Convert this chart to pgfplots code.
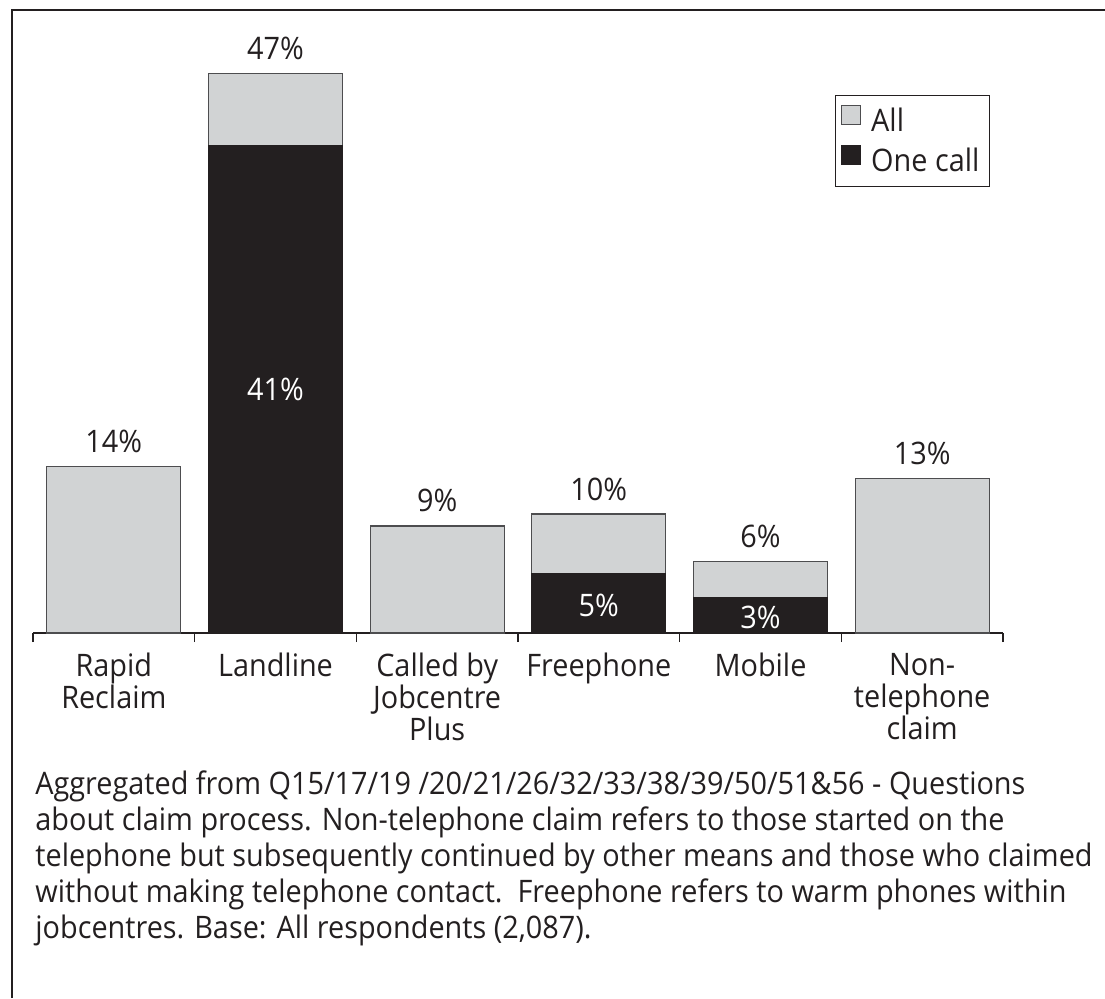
\documentclass[border=0pt]{standalone}
\usepackage{pgfplots}
\pgfplotsset{compat=1.18}
\usepackage{fontspec}
\setmainfont{Open Sans}[FakeStretch=0.93]
\definecolor{txt}{HTML}{231F20}
\definecolor{greyfill}{HTML}{D1D3D4}
\definecolor{edge}{HTML}{4D4D4F}
\begin{document}
\begin{tikzpicture}[every node/.style={text=txt}]
\path[use as bounding box] (0,0) rectangle (552.5pt,-499pt);
\draw[txt, line width=1.4pt] (6pt,-499pt) -- (6pt,-5pt) -- (552.5pt,-5pt);
\begin{axis}[
  at={(16.5pt,-316.5pt)}, anchor=south west,
  scale only axis, width=485pt, height=297.5pt,
  xmin=-0.5, xmax=5.5, ymin=0, ymax=50,
  axis x line=bottom, axis y line=none,
  x axis line style={-, txt, line width=0.6pt},
  xtick={0,...,5}, major tick length=0pt,
  minor xtick={-0.5,0.5,...,5.5}, minor tick length=4.5pt,
  tick align=outside, xtick pos=bottom,
  minor tick style={txt, line width=0.6pt},
  xticklabels={{Rapid\\Reclaim},{Landline},{Called by\\Jobcentre\\Plus},{Freephone},{Mobile},{Non-\\telephone\\claim}},
  xticklabel style={align=center, anchor=north, inner sep=0pt, yshift=-10pt, font=\fontsize{15.5}{16}\selectfont, text=txt},
  ybar, bar width=67pt, bar shift=0pt,
  clip=false,
  legend style={at={(0.9866,0.904)}, anchor=north east, draw=txt, line width=0.6pt,
    font=\fontsize{15.5}{18}\selectfont, text=txt, row sep=3pt, column sep=3pt, inner xsep=3pt, inner ysep=4pt},
  legend cell align=left,
  legend image code/.code={\draw[#1, line width=0.5pt] (0pt,-1.5pt) rectangle (9.5pt,8pt);},
]
\addplot[fill=greyfill, draw=edge, line width=0.6pt] coordinates {(0,14) (1,47) (2,9) (3,10) (4,6) (5,13)};
\addlegendentry{All}
\addplot[fill=txt, draw=txt, line width=0.6pt] coordinates {(1,41) (3,5) (4,3)};
\addlegendentry{One call}
\begin{scope}[every node/.style={font=\fontsize{15.5}{18}\selectfont, text=txt, anchor=base, yshift=7pt}]
\node at (axis cs:0,14) {14\%};
\node at (axis cs:1,47) {47\%};
\node at (axis cs:2,9) {9\%};
\node at (axis cs:3,10) {10\%};
\node at (axis cs:4,6) {6\%};
\node at (axis cs:5,13) {13\%};
\end{scope}
\begin{scope}[every node/.style={font=\fontsize{15.5}{18}\selectfont, text=white, anchor=center}]
\node at (axis cs:1,20.5) {41\%};
\node at (axis cs:3,2.3) {5\%};
\node at (axis cs:4,1.3) {3\%};
\end{scope}
\end{axis}
\node[anchor=base west, align=left, inner sep=0pt, font=\fontsize{15.5}{18}\selectfont, text=txt] at (17.5pt,-469pt)
{Aggregated from Q15/17/19 /20/21/26/32/33/38/39/50/51\&56 - Questions\\
about claim process. Non-telephone claim refers to those started on the\\
telephone but subsequently continued by other means and those who claimed\\
without making telephone contact.\ \ Freephone refers to warm phones within\\
jobcentres. Base: All respondents (2,087).};
\end{tikzpicture}
\end{document}
